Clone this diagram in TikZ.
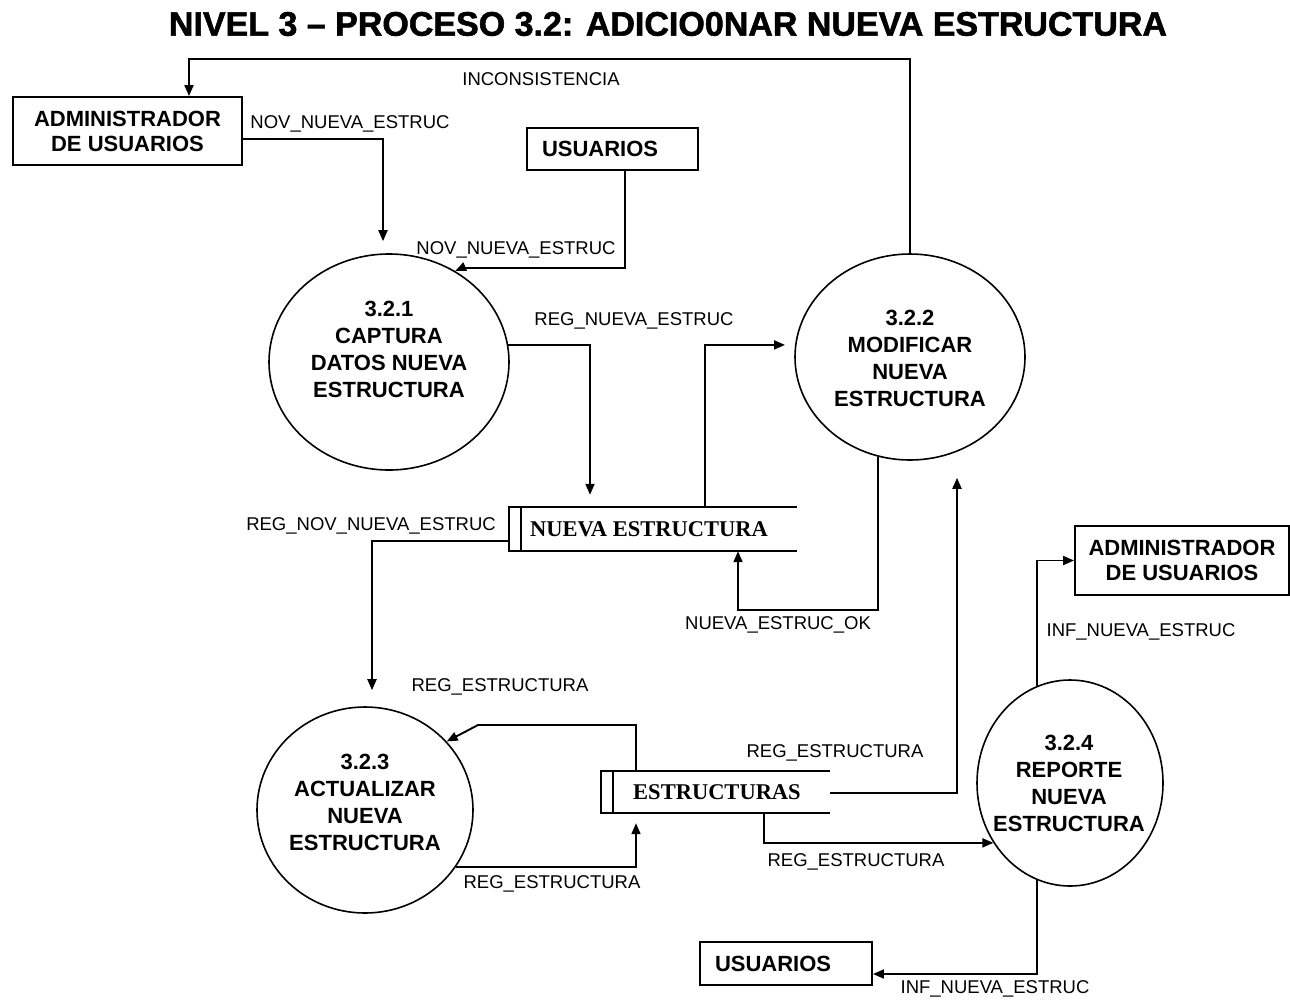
\documentclass[tikz,border=0pt]{standalone}
\usepackage{fontspec}
\setmainfont{Liberation Sans}
\newfontfamily\storefont{Liberation Serif}
\newfontfamily\titlefont[FakeBold=1.6]{Liberation Sans}
\usetikzlibrary{arrows.meta,shapes.geometric}

\begin{document}
\begin{tikzpicture}[x=1pt,y=-1pt,
  flow/.style={line width=1.9pt,-{Triangle[length=11pt,width=9pt]}},
  entity/.style={draw,line width=1.9pt,inner sep=0pt,
    font=\fontsize{22}{25}\selectfont\bfseries,align=center},
  entityleft/.style={entity,inner xsep=15pt,align=left},
  proc/.style={draw,ellipse,line width=1.6pt,inner sep=0pt},
  proctext/.style={font=\fontsize{22}{27}\selectfont\bfseries,align=center},
  storebox/.style={inner sep=0pt},
  storeline/.style={line width=1.9pt},
  storetext/.style={font=\fontsize{22.5}{25}\storefont\bfseries},
  lbl/.style={font=\fontsize{18.5}{20}\selectfont,inner sep=0pt},
]
\useasboundingbox[fill=white] (0,0) rectangle (1290,1002);

% title
\node[font=\fontsize{34}{40}\titlefont\bfseries] (title) at (668,24)
  {NIVEL 3 – PROCESO 3.2: ADICIO0NAR NUEVA ESTRUCTURA};

% external entities
\node[entity,minimum width=229pt,minimum height=68pt] (adm1) at (127.5,131)
  {ADMINISTRADOR\\DE USUARIOS};
\node[entityleft,text width=141pt,minimum height=42pt] (usu1) at (612.5,149)
  {USUARIOS};
\node[entity,minimum width=214pt,minimum height=69pt] (adm2) at (1182,560.5)
  {ADMINISTRADOR\\DE USUARIOS};
\node[entityleft,text width=142pt,minimum height=43pt] (usu2) at (786,963.5)
  {USUARIOS};

% processes
\node[proc,minimum width=240pt,minimum height=216pt] (p1) at (389,362) {};
\node[proctext] (t1) at (389,349.5) {3.2.1\\CAPTURA\\DATOS NUEVA\\ESTRUCTURA};
\node[proc,minimum width=230pt,minimum height=206pt] (p2) at (910,357) {};
\node[proctext] (t2) at (910,358) {3.2.2\\MODIFICAR\\NUEVA\\ESTRUCTURA};
\node[proc,minimum width=216pt,minimum height=206pt] (p3) at (365,810) {};
\node[proctext] (t3) at (365,802.5) {3.2.3\\ACTUALIZAR\\NUEVA\\ESTRUCTURA};
\node[proc,minimum width=186pt,minimum height=206pt] (p4) at (1070,783) {};
\node[proctext] (t4) at (1069,783.5) {3.2.4\\REPORTE\\NUEVA\\ESTRUCTURA};

% data stores
\node[storebox,minimum width=288pt,minimum height=44pt] (ns) at (653,529) {};
\draw[storeline] (ns.north east) -- (ns.north west) -- (ns.south west) -- (ns.south east);
\draw[storeline] ([xshift=12pt]ns.north west) -- ([xshift=12pt]ns.south west);
\node[storetext] (nst) at (649,529) {NUEVA ESTRUCTURA};

\node[storebox,minimum width=229pt,minimum height=42pt] (es) at (715.5,792) {};
\draw[storeline] (es.north east) -- (es.north west) -- (es.south west) -- (es.south east);
\draw[storeline] ([xshift=12pt]es.north west) -- ([xshift=12pt]es.south west);
\node[storetext] (est) at (717,792) {ESTRUCTURAS};

% bend points
\coordinate (k1) at (189,59);
\coordinate (a1) at (383,139);
\coordinate (b1) at (625,268);
\coordinate (b2) at (462,268);
\coordinate (c1) at (590,346);
\coordinate (d1) at (705,346);
\coordinate (e1) at (738,610);
\coordinate (f1) at (372,541);
\coordinate (g1) at (636,725);
\coordinate (g2) at (478,725);
\coordinate (h1) at (636,867);
\coordinate (j1) at (957,793);
\coordinate (m1) at (764,843);
\coordinate (n1) at (1036,974);

% data flows
\draw[flow] (p2.north) |- (k1) -- (adm1.north -| k1);
\draw[flow,shorten >=12pt] (adm1.east |- a1) -| (p1.north -| a1);
\draw[flow] (usu1.south -| b1) -- (b1) -- (b2) -- (p1.54);
\draw[flow,shorten >=12pt] (p1.8) -| (ns.north -| c1);
\draw[flow,shorten >=10pt] (ns.north -| d1) |- (p2.174);
\draw[flow] (p2.252) |- (e1) -- (ns.south -| e1);
\draw[flow,shorten >=16pt] (ns.west |- f1) -| (p3.north -| f1);
\draw[flow] (es.north -| g1) -- (g1) -- (g2) -- (p3.40);
\draw[flow,shorten >=10pt] (p3.-32) -| (es.south -| h1);
\draw[flow,shorten >=17pt] (es.east |- j1) -| (p2.south -| j1);
\draw[flow] (es.south -| m1) |- (p4.218);
\draw[flow] (p4.109) |- (adm2.west);
\draw[flow] (p4.251) |- (usu2.east |- n1);

% flow labels
\node[lbl] (l1) at (541,79) {INCONSISTENCIA};
\node[lbl] (l2) at (350,124) {NOV\_NUEVA\_ESTRUC};
\node[lbl] (l3) at (516,250) {NOV\_NUEVA\_ESTRUC};
\node[lbl] (l4) at (634,321) {REG\_NUEVA\_ESTRUC};
\node[lbl] (l5) at (371,526) {REG\_NOV\_NUEVA\_ESTRUC};
\node[lbl] (l6) at (778,625) {NUEVA\_ESTRUC\_OK};
\node[lbl] (l7) at (500,687) {REG\_ESTRUCTURA};
\node[lbl] (l8) at (835,753) {REG\_ESTRUCTURA};
\node[lbl] (l9) at (552,884) {REG\_ESTRUCTURA};
\node[lbl] (l10) at (856,862) {REG\_ESTRUCTURA};
\node[lbl] (l11) at (1141,632) {INF\_NUEVA\_ESTRUC};
\node[lbl] (l12) at (995,989) {INF\_NUEVA\_ESTRUC};
\end{tikzpicture}
\end{document}
